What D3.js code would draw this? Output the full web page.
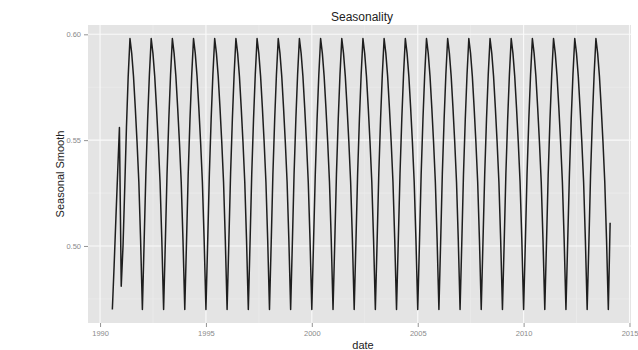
<!DOCTYPE html>
<html><head><meta charset="utf-8">
<script src="https://cdn.jsdelivr.net/npm/d3@7"></script>
<style>body{margin:0;background:#fff}svg{display:block}</style>
</head><body><svg id="c" width="638" height="350"></svg>
<script>
// ---- data (monthly seasonal smooth) ----
const startMonth = [1990, 7]; // Aug 1990 (month index 0-based)
const seasonal = [
  /*1990 Aug-Dec*/ 0.470, 0.491, 0.513, 0.535, 0.556,
  /*1991*/ 0.481, 0.500, 0.526, 0.556, 0.580, 0.598, 0.591, 0.580, 0.565, 0.549, 0.530, 0.503,
  /*1992*/ 0.470, 0.503, 0.534, 0.560, 0.581, 0.598, 0.591, 0.580, 0.565, 0.549, 0.530, 0.503,
  /*1993*/ 0.470, 0.503, 0.534, 0.560, 0.581, 0.598, 0.591, 0.580, 0.565, 0.549, 0.530, 0.503,
  /*1994*/ 0.470, 0.503, 0.534, 0.560, 0.581, 0.598, 0.591, 0.580, 0.565, 0.549, 0.530, 0.503,
  /*1995*/ 0.470, 0.503, 0.534, 0.560, 0.581, 0.598, 0.591, 0.580, 0.565, 0.549, 0.530, 0.503,
  /*1996*/ 0.470, 0.503, 0.534, 0.560, 0.581, 0.598, 0.591, 0.580, 0.565, 0.549, 0.530, 0.503,
  /*1997*/ 0.470, 0.503, 0.534, 0.560, 0.581, 0.598, 0.591, 0.580, 0.565, 0.549, 0.530, 0.503,
  /*1998*/ 0.470, 0.503, 0.534, 0.560, 0.581, 0.598, 0.591, 0.580, 0.565, 0.549, 0.530, 0.503,
  /*1999*/ 0.470, 0.503, 0.534, 0.560, 0.581, 0.598, 0.591, 0.580, 0.565, 0.549, 0.530, 0.503,
  /*2000*/ 0.470, 0.503, 0.534, 0.560, 0.581, 0.598, 0.591, 0.580, 0.565, 0.549, 0.530, 0.503,
  /*2001*/ 0.470, 0.503, 0.534, 0.560, 0.581, 0.598, 0.591, 0.580, 0.565, 0.549, 0.530, 0.503,
  /*2002*/ 0.470, 0.503, 0.534, 0.560, 0.581, 0.598, 0.591, 0.580, 0.565, 0.549, 0.530, 0.503,
  /*2003*/ 0.470, 0.503, 0.534, 0.560, 0.581, 0.598, 0.591, 0.580, 0.565, 0.549, 0.530, 0.503,
  /*2004*/ 0.470, 0.503, 0.534, 0.560, 0.581, 0.598, 0.591, 0.580, 0.565, 0.549, 0.530, 0.503,
  /*2005*/ 0.470, 0.503, 0.534, 0.560, 0.581, 0.598, 0.591, 0.580, 0.565, 0.549, 0.530, 0.503,
  /*2006*/ 0.470, 0.503, 0.534, 0.560, 0.581, 0.598, 0.591, 0.580, 0.565, 0.549, 0.530, 0.503,
  /*2007*/ 0.470, 0.503, 0.534, 0.560, 0.581, 0.598, 0.591, 0.580, 0.565, 0.549, 0.530, 0.503,
  /*2008*/ 0.470, 0.503, 0.534, 0.560, 0.581, 0.598, 0.591, 0.580, 0.565, 0.549, 0.530, 0.503,
  /*2009*/ 0.470, 0.503, 0.534, 0.560, 0.581, 0.598, 0.591, 0.580, 0.565, 0.549, 0.530, 0.503,
  /*2010*/ 0.470, 0.503, 0.534, 0.560, 0.581, 0.598, 0.591, 0.580, 0.565, 0.549, 0.530, 0.503,
  /*2011*/ 0.470, 0.503, 0.534, 0.560, 0.581, 0.598, 0.591, 0.580, 0.565, 0.549, 0.530, 0.503,
  /*2012*/ 0.470, 0.503, 0.534, 0.560, 0.581, 0.598, 0.591, 0.580, 0.565, 0.549, 0.530, 0.503,
  /*2013*/ 0.470, 0.503, 0.534, 0.560, 0.581, 0.598, 0.591, 0.580, 0.565, 0.549, 0.530, 0.503,
  /*2014 Jan-Feb*/ 0.470, 0.511
];
const xTickYears = [1990, 1995, 2000, 2005, 2010, 2015];
const xTickLabels = ["1990", "1995", "2000", "2005", "2010", "2015"];
const yTickValues = [0.50, 0.55, 0.60];
const yTickLabels = ["0.50", "0.55", "0.60"];
const titleText = "Seasonality";
const xTitle = "date";
const yTitle = "Seasonal Smooth";

// ---- layout ----
const P = {left: 88, right: 631, top: 25, bottom: 323};
const svg = d3.select("#c");

const data = seasonal.map((v, i) => ({
  date: new Date(startMonth[0], startMonth[1] + i, 1),
  value: v
}));

const x = d3.scaleTime()
  .domain([new Date(1989, 5, 7), new Date(2015, 0, 27)])
  .range([P.left, P.right]);

const yExt = d3.extent(data, d => d.value);
const pad = (yExt[1] - yExt[0]) * 0.05;
const y = d3.scaleLinear()
  .domain([yExt[0] - pad, yExt[1] + pad])
  .range([P.bottom, P.top]);

// panel
svg.append("rect")
  .attr("x", P.left).attr("y", P.top)
  .attr("width", P.right - P.left).attr("height", P.bottom - P.top)
  .attr("fill", "#e4e4e4");

// minor grid
const xMinor = xTickYears.slice(0, -1).map(yr => new Date(yr + 2, 6, 2));
const yMinor = [0.475, 0.525, 0.575];
const g = svg.append("g");
g.selectAll(".xm").data(xMinor).join("line")
  .attr("x1", d => x(d)).attr("x2", d => x(d))
  .attr("y1", P.top).attr("y2", P.bottom)
  .attr("stroke", "#efefef").attr("stroke-width", 0.6);
g.selectAll(".ym").data(yMinor).join("line")
  .attr("x1", P.left).attr("x2", P.right)
  .attr("y1", d => y(d)).attr("y2", d => y(d))
  .attr("stroke", "#efefef").attr("stroke-width", 0.6);
// major grid
const xMajor = xTickYears.map(yr => new Date(yr, 0, 1));
g.selectAll(".xM").data(xMajor).join("line")
  .attr("x1", d => x(d)).attr("x2", d => x(d))
  .attr("y1", P.top).attr("y2", P.bottom)
  .attr("stroke", "#fafafa").attr("stroke-width", 1.1);
g.selectAll(".yM").data(yTickValues).join("line")
  .attr("x1", P.left).attr("x2", P.right)
  .attr("y1", d => y(d)).attr("y2", d => y(d))
  .attr("stroke", "#fafafa").attr("stroke-width", 1.1);

// axes
const xAxis = d3.axisBottom(x).tickValues(xMajor)
  .tickFormat((d, i) => xTickLabels[i]).tickSize(4).tickPadding(4);
const yAxis = d3.axisLeft(y).tickValues(yTickValues)
  .tickFormat((d, i) => yTickLabels[i]).tickSize(4).tickPadding(3);

const gx = svg.append("g").attr("transform", `translate(0,${P.bottom})`).call(xAxis);
const gy = svg.append("g").attr("transform", `translate(${P.left},0)`).call(yAxis);
[gx, gy].forEach(a => {
  a.select(".domain").remove();
  a.selectAll(".tick line").attr("stroke", "#777").attr("stroke-width", 0.8);
  a.selectAll(".tick text").attr("fill", "#8a8a8a")
    .style("font-family", "Liberation Sans, Arial, sans-serif").style("font-size", "7.5px");
});

// line
const line = d3.line().x(d => x(d.date)).y(d => y(d.value));
svg.append("path").datum(data)
  .attr("d", line)
  .attr("fill", "none")
  .attr("stroke", "#1e1e1e")
  .attr("stroke-width", 1.5)
  .attr("stroke-linejoin", "round");

// titles
const font = "Liberation Sans, Arial, sans-serif";
svg.append("text").attr("x", 362).attr("y", 21).attr("text-anchor", "middle")
  .style("font-family", font).style("font-size", "12px").attr("fill", "#222")
  .text(titleText);
svg.append("text").attr("x", 363).attr("y", 349).attr("text-anchor", "middle")
  .style("font-family", font).style("font-size", "11px").attr("fill", "#222")
  .text(xTitle);
svg.append("text")
  .attr("transform", `translate(64,${(P.top + P.bottom) / 2}) rotate(-90)`)
  .attr("text-anchor", "middle")
  .style("font-family", font).style("font-size", "11px").attr("fill", "#222")
  .text(yTitle);
</script>
</body></html>
